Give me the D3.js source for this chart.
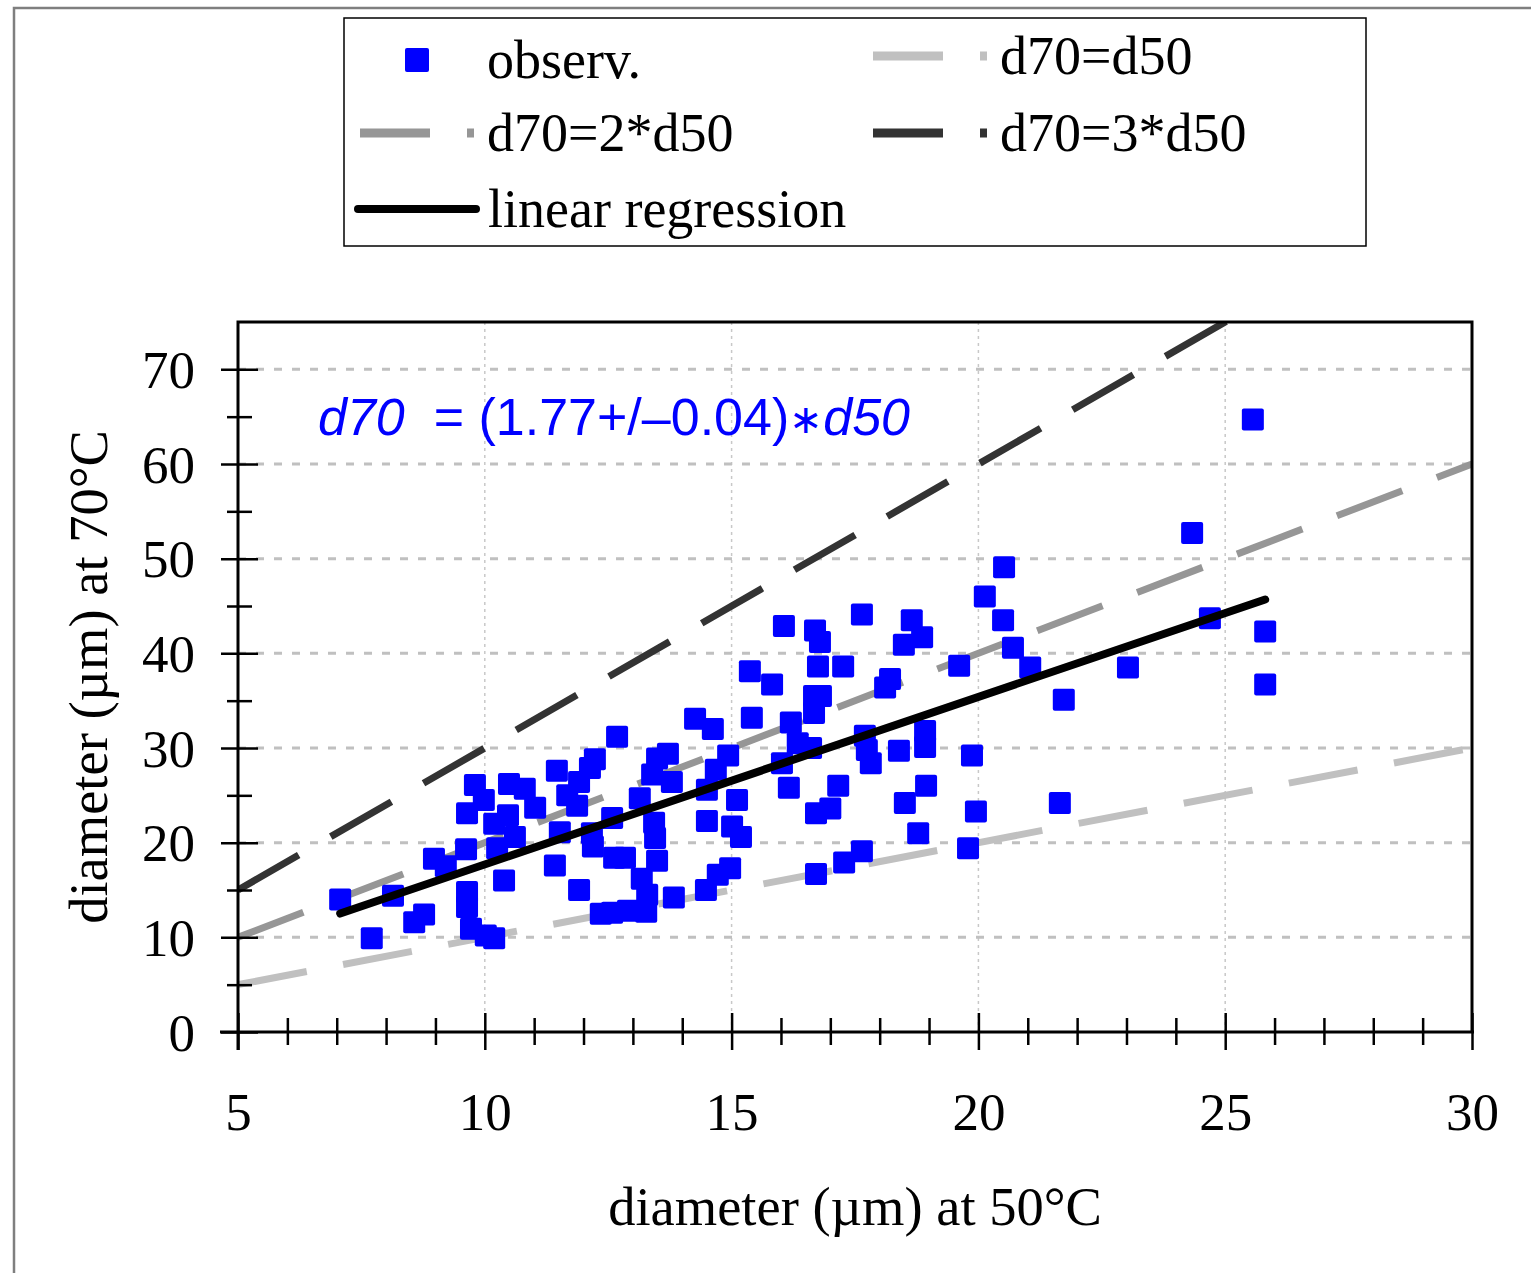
<!DOCTYPE html>
<html>
<head>
<meta charset="utf-8">
<script src="https://cdn.jsdelivr.net/npm/d3@7"></script>
<style>
  body { margin: 0; background: #fff; }
  svg { display: block; }
</style>
</head>
<body>
<svg id="chart" width="1531" height="1273"></svg>
<script>
const width = 1531;
const height = 1273;

const d50 = [
  7.07, 7.71, 8.14, 8.57, 8.77, 8.97, 9.21, 9.62, 9.64, 9.64,
  9.72, 10.02, 10.19, 10.39, 9.80, 9.98, 9.64, 10.49, 10.81, 10.19,
  10.47, 11.02, 10.25, 10.61, 11.46, 11.42, 11.91, 12.68, 12.23, 12.13,
  11.67, 11.91, 11.87, 11.52, 12.17, 12.19, 12.58, 12.62, 12.84, 13.14,
  13.39, 13.49, 13.71, 13.79, 13.43, 13.45, 13.49, 13.18, 13.29, 13.83,
  12.35, 12.58, 12.90, 13.27, 14.26, 14.62, 15.41, 14.68, 14.93, 14.50,
  14.50, 15.11, 15.01, 15.19, 14.97, 14.72, 14.48, 16.06, 16.69, 16.79,
  17.64, 18.65, 18.86, 18.49, 15.37, 15.82, 16.75, 17.26, 18.21, 18.11,
  16.67, 16.81, 16.67, 16.20, 16.34, 16.61, 16.02, 16.16, 17.70, 17.74,
  17.82, 18.39, 18.92, 18.92, 17.16, 17.00, 16.71, 18.94, 18.51, 18.78,
  17.64, 17.28, 16.71, 25.56, 24.33, 20.52, 20.13, 20.50, 20.70, 21.05,
  19.61, 21.73, 23.03, 24.69, 25.81, 25.81, 19.87, 19.95, 21.65, 19.79
];
const d70 = [
  14.0, 9.9, 14.4, 11.6, 12.4, 18.3, 17.5, 19.3, 14.8, 13.2,
  10.9, 10.2, 9.9, 16.0, 26.1, 24.5, 23.1, 26.2, 25.7, 22.0,
  22.9, 23.7, 19.4, 20.6, 27.6, 17.6, 15.0, 31.2, 28.8, 27.9,
  25.0, 26.4, 23.9, 21.1, 21.0, 19.6, 22.6, 18.4, 18.4, 24.7,
  27.2, 28.9, 29.4, 26.4, 22.1, 20.5, 18.1, 16.2, 14.5, 14.2,
  12.5, 12.6, 12.8, 12.7, 33.1, 32.0, 33.2, 27.7, 29.2, 25.6,
  22.3, 24.5, 21.7, 20.6, 17.3, 16.6, 15.0, 42.9, 42.4, 41.2,
  44.1, 43.5, 41.7, 40.9, 38.1, 36.7, 38.6, 38.6, 37.3, 36.4,
  35.5, 35.5, 33.7, 32.7, 30.5, 30.0, 28.4, 25.8, 31.3, 29.8,
  28.4, 29.7, 31.8, 30.1, 26.0, 23.6, 23.1, 26.0, 24.2, 21.0,
  19.1, 17.9, 16.7, 64.7, 52.7, 49.1, 46.0, 43.5, 40.6, 38.5,
  38.7, 35.1, 38.5, 43.7, 42.3, 36.7, 29.2, 23.3, 24.2, 19.4
];

const slope = 1.77;               // fitted d70 = slope * d50
const refFactors = [1, 2, 3];     // d70 = k * d50 guide lines
const refColors = ['#c0c0c0', '#969696', '#333333'];

const xDomain = [5, 30];
const yDomain = [0, 75];
const xTicks = d3.range(5, 31, 1);
const yTicks = d3.range(0, 71, 5);
const xGrid = [10, 15, 20, 25];
const yGrid = [10, 20, 30, 40, 50, 60, 70];

const serif = '"Liberation Serif", "Times New Roman", serif';
const sans = '"Liberation Sans", Arial, sans-serif';

const svg = d3.select('#chart');

// outer frame
svg.append('rect')
  .attr('x', 14).attr('y', 8)
  .attr('width', 1600).attr('height', 1400)
  .attr('fill', 'none')
  .attr('stroke', '#7f7f7f')
  .attr('stroke-width', 2.5);

const pLeft = 238, pRight = 1472, pTop = 322, pBottom = 1032;

const x = d3.scaleLinear().domain(xDomain).range([pLeft, pRight]);
const y = d3.scaleLinear().domain(yDomain).range([pBottom, pTop]);

svg.append('clipPath').attr('id', 'plot-clip')
  .append('rect')
  .attr('x', pLeft).attr('y', pTop)
  .attr('width', pRight - pLeft).attr('height', pBottom - pTop);

// grid
svg.append('g').selectAll('line').data(xGrid).join('line')
  .attr('x1', d => x(d)).attr('x2', d => x(d))
  .attr('y1', pTop).attr('y2', pBottom)
  .attr('stroke', '#c8c8c8')
  .attr('stroke-width', 1.5)
  .attr('stroke-dasharray', '3,4');

svg.append('g').selectAll('line').data(yGrid).join('line')
  .attr('x1', pLeft).attr('x2', pRight)
  .attr('y1', d => y(d)).attr('y2', d => y(d))
  .attr('stroke', '#c0c0c0')
  .attr('stroke-width', 3)
  .attr('stroke-dasharray', '8,10');

// guide lines d70 = k*d50
const line = d3.line().x(d => x(d[0])).y(d => y(d[1]));
const plot = svg.append('g').attr('clip-path', 'url(#plot-clip)');

refFactors.forEach((k, i) => {
  plot.append('path')
    .datum([[xDomain[0], k * xDomain[0]], [xDomain[1], k * xDomain[1]]])
    .attr('d', line)
    .attr('fill', 'none')
    .attr('stroke', refColors[i])
    .attr('stroke-width', 7)
    .attr('stroke-dasharray', '70,37');
});

// observations
const points = d50.map((v, i) => [v, d70[i]]);
const sq = 22;
plot.append('g').selectAll('rect').data(points).join('rect')
  .attr('x', d => x(d[0]) - sq / 2)
  .attr('y', d => y(d[1]) - sq / 2)
  .attr('width', sq).attr('height', sq)
  .attr('rx', 2)
  .attr('fill', '#0000ff');

// regression line over the range of the data
const [xmin, xmax] = d3.extent(d50);
plot.append('path')
  .datum([[xmin, slope * xmin], [xmax, slope * xmax]])
  .attr('d', line)
  .attr('fill', 'none')
  .attr('stroke', '#000')
  .attr('stroke-width', 8)
  .attr('stroke-linecap', 'round');

// plot frame
svg.append('path')
  .attr('d', `M${pLeft},${pBottom + 18}V${pTop}H${pRight}V${pBottom}`)
  .attr('fill', 'none')
  .attr('stroke', '#000')
  .attr('stroke-width', 3);

// x axis
const xAxis = svg.append('g')
  .attr('transform', `translate(0,${pBottom})`)
  .call(d3.axisBottom(x).tickValues(xTicks).tickFormat(d => d % 5 === 0 ? d : '').tickSizeOuter(0));
xAxis.select('.domain').remove();
xAxis.append('line')
  .attr('x1', pLeft - 18).attr('x2', pRight + 2)
  .attr('stroke', '#000').attr('stroke-width', 3);
xAxis.selectAll('.tick line')
  .attr('y1', d => d % 5 === 0 ? -19 : -14)
  .attr('y2', d => d % 5 === 0 ? 18 : 13)
  .attr('stroke', '#000')
  .attr('stroke-width', 2.5);
xAxis.selectAll('.tick text')
  .attr('y', 98).attr('dy', 0)
  .attr('fill', '#000')
  .style('font-family', serif)
  .style('font-size', '53px');

// y axis
const yAxis = svg.append('g')
  .attr('transform', `translate(${pLeft},0)`)
  .call(d3.axisLeft(y).tickValues(yTicks).tickFormat(d => d % 10 === 0 ? d : '').tickSizeOuter(0));
yAxis.select('.domain').remove();
yAxis.selectAll('.tick line')
  .attr('x1', d => d % 10 === 0 ? -17 : -11)
  .attr('x2', d => d % 10 === 0 ? 20 : 14)
  .attr('stroke', '#000')
  .attr('stroke-width', 2.5);
yAxis.selectAll('.tick text')
  .attr('x', -43).attr('dy', '0.34em')
  .attr('fill', '#000')
  .style('font-family', serif)
  .style('font-size', '53px');

// axis titles
svg.append('text')
  .attr('x', (pLeft + pRight) / 2).attr('y', 1225)
  .attr('text-anchor', 'middle')
  .style('font-family', serif).style('font-size', '54.5px')
  .text('diameter (µm) at 50°C');

svg.append('text')
  .attr('transform', `translate(107,${(pTop + pBottom) / 2}) rotate(-90)`)
  .attr('text-anchor', 'middle')
  .style('font-family', serif).style('font-size', '54.5px')
  .text('diameter (µm) at 70°C');

// regression equation
const eq = svg.append('text')
  .attr('x', 318).attr('y', 435)
  .attr('fill', '#0000ff')
  .style('font-family', sans).style('font-size', '52px')
  .attr('xml:space', 'preserve');
eq.append('tspan').style('font-style', 'italic').text('d70');
eq.append('tspan').text('  = (' + slope.toFixed(2) + '+/–0.04)');
eq.append('tspan').attr('dy', -2).style('font-size', '40px').text('∗');
eq.append('tspan').attr('dy', 2).style('font-style', 'italic').text('d50');

// legend
const legend = svg.append('g');
legend.append('rect')
  .attr('x', 344).attr('y', 18)
  .attr('width', 1022).attr('height', 228)
  .attr('fill', '#fff')
  .attr('stroke', '#000')
  .attr('stroke-width', 1.5);

const legendItems = [
  { label: 'observ.', type: 'square', x: 360, y: 60 },
  { label: 'd70=d50', type: 'dash', color: refColors[0], x: 873, y: 56 },
  { label: 'd70=2*d50', type: 'dash', color: refColors[1], x: 360, y: 133 },
  { label: 'd70=3*d50', type: 'dash', color: refColors[2], x: 873, y: 133 },
  { label: 'linear regression', type: 'line', x: 358, y: 209 }
];

legendItems.forEach(it => {
  const g = legend.append('g');
  if (it.type === 'square') {
    g.append('rect')
      .attr('x', it.x + 45).attr('y', it.y - 12)
      .attr('width', 24).attr('height', 24)
      .attr('rx', 2)
      .attr('fill', '#0000ff');
  } else if (it.type === 'dash') {
    g.append('line')
      .attr('x1', it.x).attr('x2', it.x + 114)
      .attr('y1', it.y).attr('y2', it.y)
      .attr('stroke', it.color)
      .attr('stroke-width', 9)
      .attr('stroke-dasharray', '70,37');
  } else {
    g.append('line')
      .attr('x1', it.x).attr('x2', it.x + 118)
      .attr('y1', it.y).attr('y2', it.y)
      .attr('stroke', '#000')
      .attr('stroke-width', 8)
      .attr('stroke-linecap', 'round');
  }
  g.append('text')
    .attr('x', it.type === 'line' ? it.x + 130 : it.x + 127)
    .attr('y', it.y + 18)
    .style('font-family', serif).style('font-size', '54px')
    .text(it.label);
});
</script>
</body>
</html>
